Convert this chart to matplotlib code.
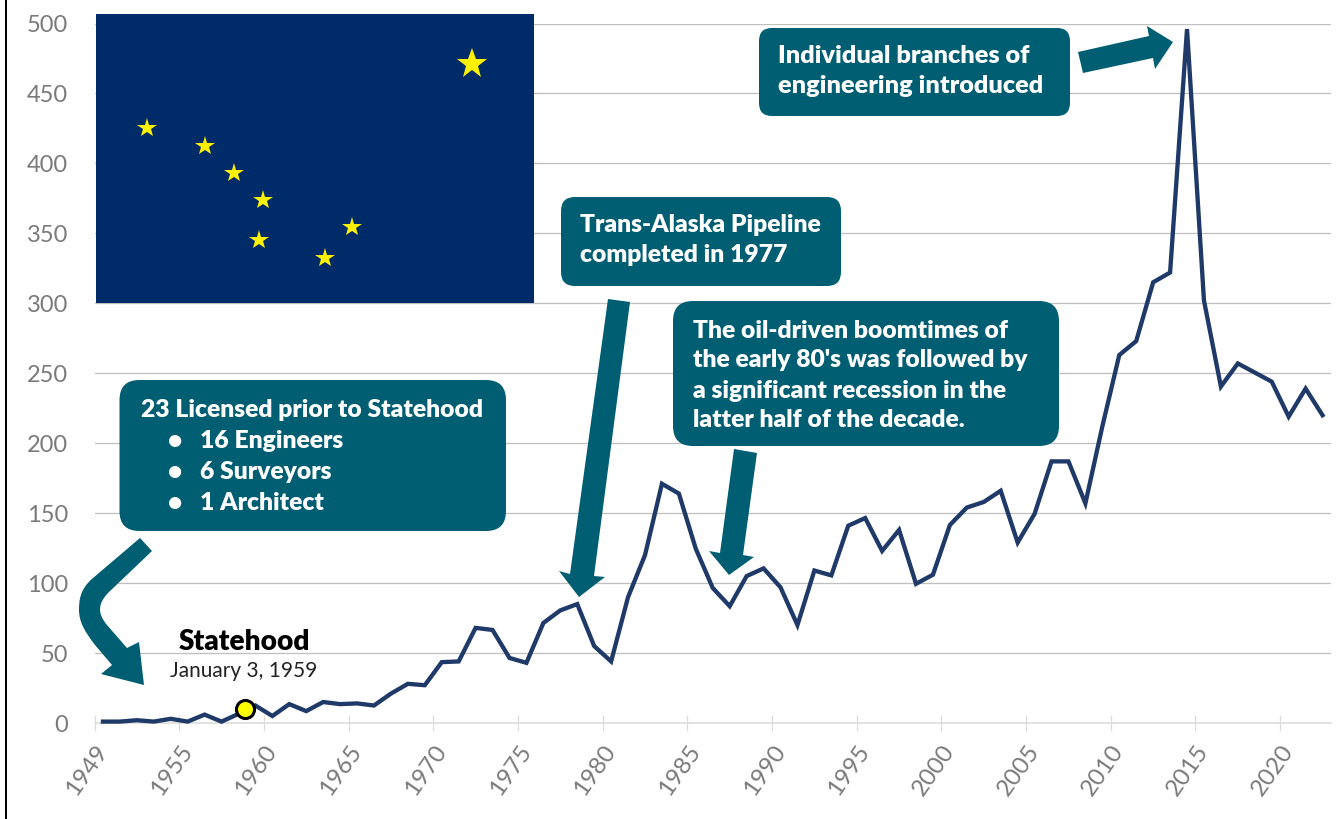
import matplotlib
matplotlib.use("Agg")
import matplotlib.pyplot as plt
from matplotlib.patches import FancyBboxPatch, PathPatch, Polygon, Rectangle
from matplotlib.path import Path
import numpy as np

W, H = 1338, 819

# INPUT
years = [1949] + list(range(1951, 2023))
licenses = [1, 1, 2, 1, 3, 1, 6, 1, 6.5, 12.5,
            5, 13.5, 8.5, 15, 13.5, 14, 12.5, 21, 28, 27,
            43.5, 44, 68, 66.5, 46.5, 43, 71.5, 80.5, 85, 55,
            44, 90, 120, 171, 164, 124.5, 96.5, 83.5, 105, 110.5,
            97, 70, 109, 105.5, 141, 146.5, 123, 138, 99.5, 106,
            141.5, 154, 158, 166, 129, 149.5, 187, 187, 157, 212,
            263, 273, 315, 322, 496, 302, 240.5, 257, 250.5, 244,
            219, 239, 220]
tick_labels = ["1949", "1955", "1960", "1965", "1970", "1975", "1980", "1985",
               "1990", "1995", "2000", "2005", "2010", "2015", "2020"]
y_ticks = [0, 50, 100, 150, 200, 250, 300, 350, 400, 450, 500]
statehood_pos = 8.89
statehood_value = 10

TEAL = "#005E73"
NAVY = "#1F3A68"
FONT = "Lato"

plt.rcParams["font.family"] = FONT

fig = plt.figure(figsize=(W / 100, H / 100), dpi=100, facecolor="white")

# axes placed so that 0 sits at y=723 px and 500 at y=23.5 px
left, right, top, bottom = 94.5, 1331, 23.5, 723
ax = fig.add_axes([left / W, 1 - bottom / H, (right - left) / W, (bottom - top) / H])
x = np.arange(len(licenses)) + 0.5
ax.set_xlim(0, 73)
ax.set_ylim(0, 500)
ax.set_yticks(y_ticks)
ax.set_xticks([0, 5, 10, 15, 20, 25, 30, 35, 40, 45, 50, 55, 60, 65, 70])
ax.set_xticklabels(tick_labels)
for s in ["top", "right", "left"]:
    ax.spines[s].set_visible(False)
ax.spines["bottom"].set_color("#DDDDDD")
ax.spines["bottom"].set_linewidth(1.2)
ax.grid(axis="y", color="#BFBFBF", linewidth=0.9)
ax.set_axisbelow(True)
ax.tick_params(axis="y", length=0, pad=19, labelsize=17, labelcolor="#7A7A7A")
ax.tick_params(axis="x", direction="inout", length=11.5, width=0.9, color="#DDDDDD",
               pad=7, labelsize=17.5, labelcolor="#7A7A7A")
for t in ax.get_xticklabels():
    t.set_rotation(55)
    t.set_ha("right")
    t.set_va("top")
    t.set_rotation_mode("anchor")
ax.patch.set_alpha(0)

# overlay in pixel coordinates for the flag, the callouts and the arrows
ov2 = fig.add_axes([0, 0, 1, 1], zorder=5)
ov2.set_xlim(0, W)
ov2.set_ylim(H, 0)
ov2.axis("off")
ov2.patch.set_alpha(0)

# left border of the screenshot
ov2.add_patch(Rectangle((4.5, 0), 2.5, H, color="black", lw=0))

# flag
ov2.add_patch(Rectangle((96, 13.5), 438, 289.5, color="#002B69", lw=0))
stars_x = [147, 205, 234, 263, 259, 325, 352]
stars_y = [128, 146, 173, 200, 240, 258, 227]
ov2.plot(stars_x, stars_y, ls="none", marker="*", ms=14.5, mew=0, color="#FFF200")
ov2.plot([472], [64], ls="none", marker="*", ms=23, mew=0, color="#FFF200")

# data
ax.plot(x, licenses, color=NAVY, linewidth=3.1, solid_joinstyle="miter", zorder=3, clip_on=False)
ax.plot([statehood_pos], [statehood_value], marker="o", ms=13, mfc="#FFFF00", mec="black",
        mew=2.2, ls="none", zorder=4, clip_on=False)


def box(x0, y0, x1, y1, r):
    ov2.add_patch(FancyBboxPatch((x0, y0), x1 - x0, y1 - y0,
                                 boxstyle="round,pad=0,rounding_size=%g" % r,
                                 fc=TEAL, ec="none", zorder=3))


def write(px, py, s, size=17.7, **kw):
    kw.setdefault("color", "white")
    kw.setdefault("weight", "heavy")
    ov2.text(px, py + 1, s, fontsize=size, va="baseline", zorder=6, **kw)


box(119.5, 380, 506, 531, 20)
box(561, 197, 841, 286, 14)
box(673, 301, 1059, 446, 20)
box(759, 28, 1070, 116, 13)

write(141, 416, "23 Licensed prior to Statehood")
for yy, s in zip([447, 478, 509], ["16 Engineers", "6 Surveyors", "1 Architect"]):
    write(174.7, yy, "•", ha="center")
    write(200, yy, s)
write(580, 231, "Trans-Alaska Pipeline")
write(580, 261, "completed in 1977")
for yy, s in zip([337, 366, 396.5, 426],
                 ["The oil-driven boomtimes of", "the early 80's was followed by",
                  "a significant recession in the", "latter half of the decade."]):
    write(693, yy, s)
write(778, 62, "Individual branches of", size=18.2)
write(778, 92, "engineering introduced", size=18.2)

write(244, 649, "Statehood", size=20.2, color="black", ha="center")
write(244, 676, "January 3, 1959", size=15, color="#222222", weight="normal", ha="center")

# straight arrows
arrows = [
    [(1078, 52), (1149, 36), (1147, 26), (1173, 42), (1155, 69), (1153, 58), (1083, 73)],
    [(608, 299), (570, 574), (559, 571), (579, 597), (605, 577), (594, 576), (630, 302)],
    [(734, 449), (720, 553), (709, 551), (729, 575), (754, 557), (743, 555), (757, 453)],
]
for pts in arrows:
    ov2.add_patch(Polygon(pts, closed=True, fc=TEAL, ec="none", zorder=2))

# curved arrow
verts = [(140, 538), (93, 578),
         (80, 589), (79, 600), (79, 610),
         (79, 622), (85, 632), (95, 645),
         (112, 665), (101, 674), (144, 685), (139, 642), (127, 648), (107, 625),
         (96, 612), (99, 602), (109, 592),
         (152, 551), (140, 538)]
codes = [Path.MOVETO, Path.LINETO,
         Path.CURVE4, Path.CURVE4, Path.CURVE4,
         Path.CURVE4, Path.CURVE4, Path.CURVE4,
         Path.LINETO, Path.LINETO, Path.LINETO, Path.LINETO, Path.LINETO, Path.LINETO,
         Path.CURVE4, Path.CURVE4, Path.CURVE4,
         Path.LINETO, Path.CLOSEPOLY]
ov2.add_patch(PathPatch(Path(verts, codes), fc=TEAL, ec="none", zorder=2))

fig.savefig("out.png", dpi=100)
